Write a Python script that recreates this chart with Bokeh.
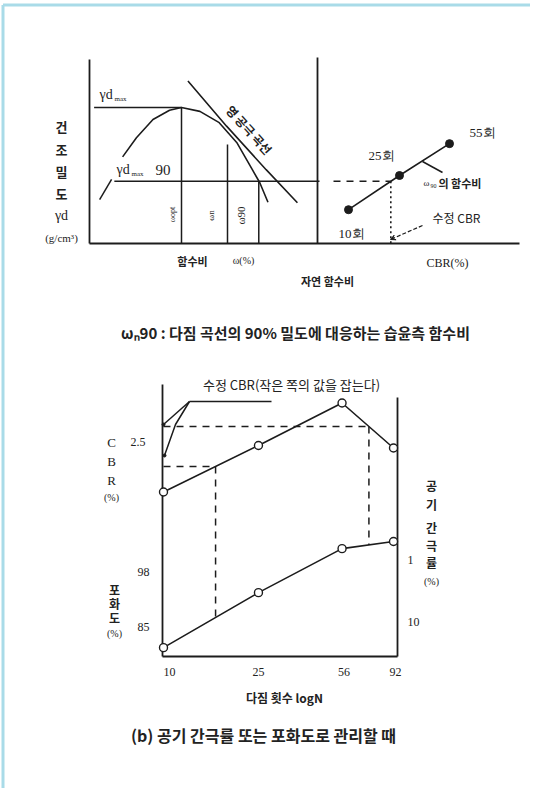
import numpy as np
from bokeh.plotting import figure
from bokeh.models import Range1d, LogScale, Arrow, VeeHead
from bokeh.core.properties import value
from bokeh.embed import file_html
from bokeh.resources import INLINE

# ---------------- data ----------------
# upper-left: compaction curve, water content w (%) vs dry density gd (g/cm3)
comp_w = [7.6, 9.1, 10.9, 12.7, 14.0, 16.0, 18.1, 20.0, 21.7, 22.5, 23.4]
comp_gd = [1.773, 1.822, 1.869, 1.893, 1.900, 1.890, 1.861, 1.810, 1.740, 1.707, 1.656]
zav_w = [14.7, 18.9, 23.2, 26.6]
zav_gd = [1.968, 1.852, 1.740, 1.655]
gd_max = 1.90
gd_90 = 1.71
w_opt, w_n, w_90 = 14.0, 19.0, 22.4
gd_base = 1.55
# upper-right: CBR at w90 for each number of blows
blow_labels = ["10회", "25회", "55회"]
blow_cbr = [3.1, 8.2, 13.2]
blow_gd = [1.637, 1.725, 1.807]
# lower: number of blows N (log) vs CBR and degree of saturation
n_blows = [10, 25, 56, 92]
n_labels = ["10", "25", "56", "92"]
cbr_b = [1.49, 2.42, 3.27, 2.37]
sat_b = [80.0, 93.0, 103.4, 105.1]
cbr_ticks = [2.5]
sat_ticks = [98, 85]
av_ticks = [1, 10]
cbr_req = [2.8, 2.0]

# ---------------- page / scales ----------------
W, H = 530, 788
OX, OY = 1, 1
INK = "#1c1c1c"
KR = "Noto Sans CJK KR"
SERIF = "Liberation Serif"


def mk_range(d0, a, d1, b, axis="x", log=False):
    f = np.log10 if log else (lambda v: v)
    d0, d1 = f(d0), f(d1)
    size = W if axis == "x" else H
    if axis == "x":
        pa, pb = a - OX, b - OX
    else:
        pa, pb = OY + H - a, OY + H - b
    k = (d1 - d0) / (pb - pa)
    s, e = d0 - pa * k, d0 + (size - pa) * k
    if log:
        s, e = 10 ** s, 10 ** e
    return Range1d(s, e)


# pixel anchors of the lower panel (for dashed guide lines between scales)
def cb_px(c):
    return 442 - (c - 2.5) * 50.0


def s_px(s):
    return 572 + (98 - s) * (55.0 / 13.0)


def n_px(n):
    return 164 + (np.log10(n) - 1) * (230.0 / np.log10(9.2))


p = figure(width=W, height=H, x_range=Range1d(OX, OX + W), y_range=Range1d(OY + H, OY),
           x_axis_type=None, y_axis_type=None, toolbar_location=None,
           output_backend="svg", min_border=0)
p.outline_line_color = None
p.background_fill_color = "white"
p.border_fill_color = "white"

p.extra_x_ranges = {
    "w": mk_range(4, 90, 14, 182, "x"),
    "cbr": mk_range(0, 318, 10, 418, "x"),
    "n": mk_range(10, 164, 92, 394, "x", log=True),
}
p.extra_x_scales = {"n": LogScale()}
p.extra_y_ranges = {
    "gd": mk_range(1.55, 244, 1.90, 108, "y"),
    "cb": mk_range(2.5, 442, 3.5, 392, "y"),
    "s": mk_range(98, 572, 85, 627, "y"),
    "av": mk_range(1, 560, 10, 622, "y", log=True),
}
p.extra_y_scales = {"av": LogScale()}


def txt(x, y, s, size=12, font=KR, align="center", baseline="middle", angle=0,
        xr="default", yr="default", color="#222222", style="normal"):
    p.text(x=[x], y=[y], text=[s], text_font=value(font), text_font_size=f"{size}px",
           text_align=align, text_baseline=baseline, angle=angle, angle_units="deg",
           text_color=color, text_font_style=style, x_range_name=xr, y_range_name=yr)


def seg(xs, ys, xr="default", yr="default", w=1.5, dash="solid", color=INK):
    p.line(xs, ys, x_range_name=xr, y_range_name=yr, line_width=w, line_dash=dash,
           line_color=color)


# page border (light blue)
seg([3.5, 3.5], [5.5, 789], w=3, color="#a9dbe8")
seg([3.5, 531], [5.5, 5.5], w=3, color="#a9dbe8")

# ================= upper panels =================
seg([90, 90], [60, 244], w=1.8)
seg([90, 520], [244, 244], w=1.8)
seg([318, 318], [58, 244], w=1.8)

# compaction curve & zero-air-void curve
seg(comp_w, comp_gd, "w", "gd", w=1.6)
seg(zav_w, zav_gd, "w", "gd", w=1.6)
seg([4.5, w_opt], [gd_max, gd_max], "w", "gd")
seg([6.7, 29.0], [gd_90, gd_90], "w", "gd")
seg([w_opt, w_opt], [gd_max, gd_base], "w", "gd")
seg([w_n, w_n], [1.805, gd_base], "w", "gd")
seg([w_90, w_90], [gd_90, gd_base], "w", "gd")
seg([5.1, 6.4], [1.663, 1.715], "w", "gd")

# labels upper-left
for ch, yy in zip(["건", "조", "밀", "도"], [127, 150, 172, 194]):
    txt(62, yy, ch, size=13, style="bold")
txt(62, 216, "γd", size=14, font=SERIF)
txt(62, 238, "(g/cm³)", size=11, font=SERIF)
txt(100, 95, "γd", size=14, font=SERIF, align="left")
txt(115, 99, "max", size=7, font=SERIF, align="left")
txt(117, 170, "γd", size=14, font=SERIF, align="left")
txt(132, 174, "max", size=7, font=SERIF, align="left")
txt(156, 170, "90", size=15, font=SERIF, align="left")
txt(250, 130, "영 공극 곡선", size=12, angle=-48, style="bold")
txt(173, 215, "ωopt", size=8, font=SERIF, angle=90)
txt(211, 216, "ωn", size=9, font=SERIF, angle=90)
txt(241, 216, "ω90", size=11, font=SERIF, angle=90)
txt(193, 261, "함수비", size=11, style="bold")
txt(244, 261, "ω(%)", size=10, font=SERIF)
txt(328, 281, "자연 함수비", size=11, style="bold")

# upper-right CBR panel
cbr_x = float(np.interp(gd_90, blow_gd, blow_cbr))
seg([1.6, cbr_x], [gd_90, gd_90], "cbr", "gd", dash="7 6")
seg([cbr_x, cbr_x], [gd_90, gd_base], "cbr", "gd", w=1.6, dash="2 3")
seg(blow_cbr, blow_gd, "cbr", "gd", w=1.6)
p.scatter(blow_cbr, blow_gd, x_range_name="cbr", y_range_name="gd", size=8,
          fill_color=INK, line_color=INK)
txt(483, 133, blow_labels[2], size=13, font=SERIF)
txt(382, 156, blow_labels[1], size=13, font=SERIF)
txt(352, 234, blow_labels[0], size=13, font=SERIF)
seg([423, 443], [162, 173])
txt(424, 183, "ω", size=9, font=SERIF, align="left")
txt(431, 186, "90", size=6, font=SERIF, align="left")
txt(439, 183, "의 함수비", size=11, align="left", style="bold")
txt(433, 218, "수정 CBR", size=12, align="left")
p.add_layout(Arrow(end=VeeHead(size=5, line_color=INK, line_width=1), x_start=423, y_start=226,
                   x_end=391, y_end=240, line_dash="4 2", line_color=INK, line_width=1.2))
txt(448, 263, "CBR(%)", size=12, font=SERIF)

txt(296, 333, "ωₙ90 : 다짐 곡선의 90% 밀도에 대응하는 습윤측 함수비", size=15, style="bold")

# ================= lower panel =================
seg([163, 163], [385, 657], w=1.8)
seg([398, 398], [398, 657], w=1.8)
seg([163, 398], [657, 657], w=1.8)

lN = np.log10(n_blows)


def crossings(level):
    out = []
    for i in range(len(cbr_b) - 1):
        c0, c1 = cbr_b[i], cbr_b[i + 1]
        if (c0 - level) * (c1 - level) <= 0 and c0 != c1:
            t = (level - c0) / (c1 - c0)
            out.append(10 ** (lN[i] + t * (lN[i + 1] - lN[i])))
    return out


n_hi = crossings(cbr_req[0])[-1]
n_lo = crossings(cbr_req[1])[0]
for lev, nn in [(cbr_req[0], n_hi), (cbr_req[1], n_lo)]:
    seg([n_blows[0], nn], [lev, lev], "n", "cb", dash="7 6")
    sv = float(np.interp(np.log10(nn), lN, sat_b))
    seg([n_px(nn), n_px(nn)], [cb_px(lev), s_px(sv)], dash="7 6")

seg(n_blows, cbr_b, "n", "cb", w=1.6)
p.scatter(n_blows, cbr_b, x_range_name="n", y_range_name="cb", size=8,
          fill_color="white", line_color=INK, line_width=1.4)
seg(n_blows, sat_b, "n", "s", w=1.6)
p.scatter(n_blows, sat_b, x_range_name="n", y_range_name="s", size=8,
          fill_color="white", line_color=INK, line_width=1.4)

# annotation: 수정 CBR(작은 쪽의 값을 잡는다)
txt(292, 385, "수정 CBR(작은 쪽의 값을 잡는다)", size=13)
seg([190, 272], [402, 402])
seg([190, 164], [402, 425])
seg([190, 176, 165], [402, 425, 456])
p.scatter([164, 165], [425, 456], size=3, fill_color=INK, line_color=INK)

# tick labels
for t in cbr_ticks:
    txt(131, t, f"{t}", size=12, font=SERIF, align="left", yr="cb")
for t in sat_ticks:
    txt(138, t, f"{t}", size=12, font=SERIF, align="left", yr="s")
for t in av_ticks:
    txt(408, t, f"{t}", size=12, font=SERIF, align="left", yr="av")
for n, lab, dx in zip(n_blows, n_labels, [6, 0, 2, 2]):
    p.text(x=[n], y=[672], text=[lab], x_range_name="n", text_font=value(SERIF),
           text_font_size="12px", text_align="center", text_baseline="middle",
           text_color="#222222", x_offset=dx)

# axis titles lower
for ch, yy in zip(["C", "B", "R"], [443, 462, 481]):
    txt(112, yy, ch, size=13, font=SERIF)
txt(112, 498, "(%)", size=10, font=SERIF)
for ch, yy in zip(["포", "화", "도"], [590, 604, 618]):
    txt(115, yy, ch, size=12, style="bold")
txt(115, 634, "(%)", size=10, font=SERIF)
for ch, yy in zip(["공", "기", "간", "극", "률"], [486, 505, 528, 546, 563]):
    txt(432, yy, ch, size=12, style="bold")
txt(432, 582, "(%)", size=10, font=SERIF)
txt(285, 698, "다짐 횟수 logN", size=12, style="bold")
txt(264, 735, "(b) 공기 간극률 또는 포화도로 관리할 때", size=16, style="bold")

open("out.html", "w").write(file_html(p, INLINE))
